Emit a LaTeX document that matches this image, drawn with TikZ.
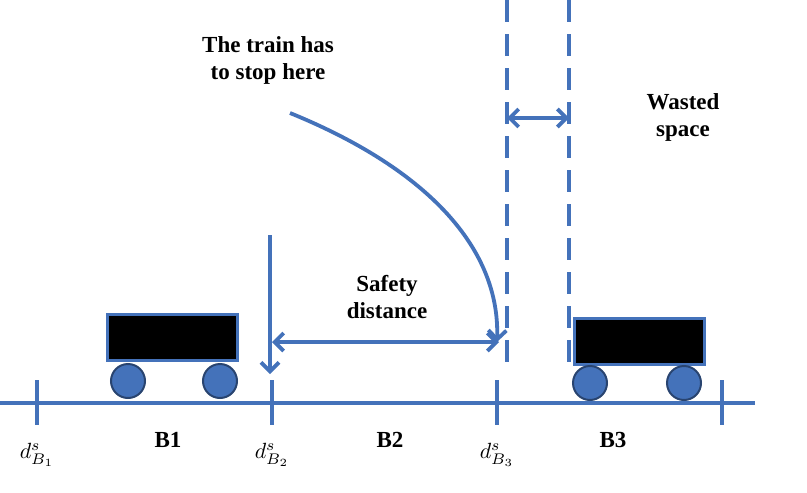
\documentclass[tikz,border=0pt]{standalone}
\usepackage{fontspec}
\setmainfont{Liberation Serif}
\usetikzlibrary{arrows.meta}
\definecolor{lb}{RGB}{68,114,186}
\begin{document}
\begin{tikzpicture}[x=1pt,y=-1pt,
  ln/.style={draw=lb,line width=3.8pt},
  arr/.style={ln,-{Straight Barb[length=9pt,width=18pt]}},
  darr/.style={ln,{Straight Barb[length=9pt,width=18pt]}-{Straight Barb[length=9pt,width=18pt]}},
  wheel/.style={circle,draw=lb!60!black,fill=lb,line width=2pt,minimum size=34pt,inner sep=0},
  body/.style={draw=lb,fill=black,line width=3pt,minimum width=130pt,minimum height=46pt,inner sep=0},
  lbl/.style={font=\bfseries\fontsize{23}{27}\selectfont,align=center}]
\useasboundingbox (0,0) rectangle (807,493);
\coordinate (l0) at (0,403); \coordinate (l1) at (755,403);
\draw[ln] (l0) -- (l1);
\foreach \n/\x in {t1/37,t2/272,t3/497,t4/722}{
  \coordinate (\n a) at (\x,380); \coordinate (\n b) at (\x,425);
  \draw[ln] (\n a) -- (\n b);}
\node (d1) at (37,455) {\scalebox{2.2}{$d^s_{B_1}$}};
\node (d2) at (272,455) {\scalebox{2.2}{$d^s_{B_2}$}};
\node (d3) at (497,455) {\scalebox{2.2}{$d^s_{B_3}$}};
\node[lbl] (b1) at (168,440) {B1};
\node[lbl] (b2) at (390,440) {B2};
\node[lbl] (b3) at (613,440) {B3};
\node[body] (c1) at (172,337) {};
\node[wheel] (w1) at (128,381) {};
\node[wheel] (w2) at (220,381) {};
\node[body] (c2) at (639,341) {};
\node[wheel] (w3) at (590,383) {};
\node[wheel] (w4) at (684,383) {};
\coordinate (v0) at (270,235); \coordinate (v1) at (270,374);
\draw[arr] (v0) -- (v1);
\coordinate (s0) at (272,342); \coordinate (s1) at (499,342);
\draw[darr] (s0) -- (s1);
\node[lbl] (sd) at (387,297) {Safety\\distance};
\coordinate (e0) at (507,0); \coordinate (e1) at (507,362);
\coordinate (f0) at (569,0); \coordinate (f1) at (569,362);
\draw[ln,dash pattern=on 22pt off 12pt] (e0) -- (e1);
\draw[ln,dash pattern=on 22pt off 12pt] (f0) -- (f1);
\coordinate (g0) at (507,118); \coordinate (g1) at (569,118);
\draw[darr] (g0) -- (g1);
\node[lbl] (ws) at (683,117) {Wasted\\space};
\node[lbl] (tt) at (268,60) {The train has\\to stop here};
\coordinate (k0) at (290,113); \coordinate (k1) at (497,342);
\draw[arr] (k0) .. controls (430,170) and (500,250) .. (k1);
\end{tikzpicture}
\end{document}
